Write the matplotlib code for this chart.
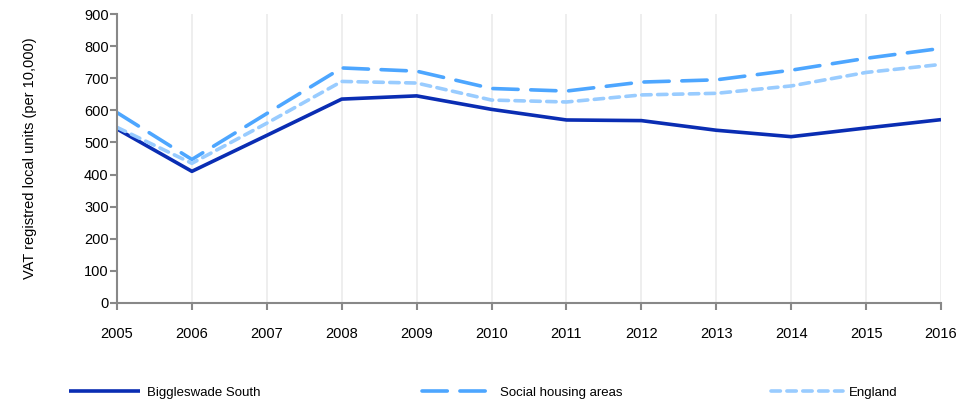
import matplotlib
matplotlib.use("Agg")
import matplotlib.pyplot as plt

plt.rcParams['font.family'] = ['Liberation Sans', 'DejaVu Sans']

years = [2005, 2006, 2007, 2008, 2009, 2010, 2011, 2012, 2013, 2014, 2015, 2016]
biggleswade = [542, 410, 522, 635, 645, 603, 570, 568, 538, 518, 545, 571]
social_housing = [593, 447, 590, 732, 722, 668, 660, 688, 695, 725, 762, 793]
england = [547, 435, 560, 690, 685, 632, 626, 648, 653, 676, 718, 743]

series = [
    ("Biggleswade South", biggleswade, "#0a2db3", None),
    ("Social housing areas", social_housing, "#4da6ff", (0, (7, 3.5))),
    ("England", england, "#99ccff", (0, (2.6, 1.8))),
]

fig = plt.figure(figsize=(9.8, 3.99), dpi=100)
ax = fig.add_axes([117 / 980, 96 / 399, 824 / 980, 289 / 399])

for x in years:
    ax.axvline(x, color="#ebebeb", lw=1.2, zorder=0)

handles = []
for name, vals, col, dash in series:
    ln, = ax.plot(years, vals, color=col, lw=2.6, solid_capstyle="butt",
                  dash_capstyle="round", label=name)
    if dash is not None:
        ln.set_linestyle(dash)
    handles.append(ln)

ax.set_xlim(2005, 2016)
ax.set_ylim(0, 900)
ax.set_xticks(years)
ax.set_yticks(range(0, 901, 100))
ax.tick_params(axis="x", pad=12, labelsize=10.5, length=5, width=1.5, color="#888888")
ax.tick_params(axis="y", pad=1, labelsize=10.5, length=5, width=1.5, color="#888888")
for s in ["top", "right"]:
    ax.spines[s].set_visible(False)
for s in ["left", "bottom"]:
    ax.spines[s].set_color("#888888")
    ax.spines[s].set_linewidth(1.5)
ax.set_ylabel("VAT registred local units (per 10,000)", fontsize=10.5, labelpad=34)

# legend entries spread along the bottom
anchors = [0.058, 0.419, 0.775]
for h, xa in zip(handles, anchors):
    fig.legend(handles=[h], labels=[h.get_label()], loc="lower left",
               bbox_to_anchor=(xa, -0.03), frameon=False, fontsize=9.5,
               handlelength=5.4, handletextpad=0.5)

fig.savefig("out.png", dpi=100)
